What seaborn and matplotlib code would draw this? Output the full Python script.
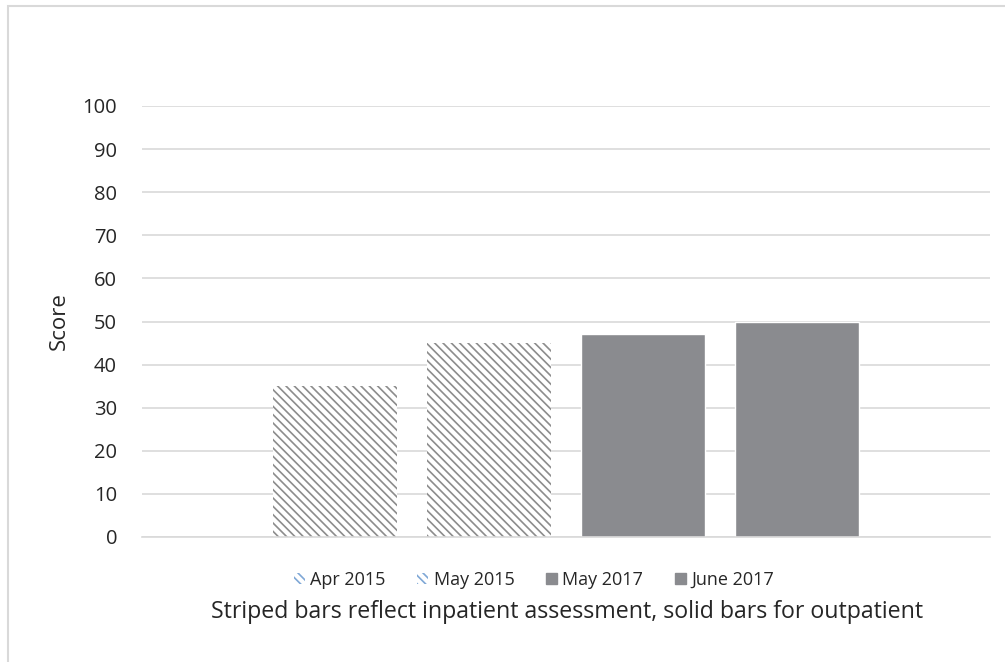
import pandas as pd
import numpy as np
import seaborn as sns
import matplotlib.pyplot as plt
from matplotlib.patches import Patch, Rectangle
plt.switch_backend('agg')

series = ['Apr 2015', 'May 2015', 'May 2017', 'June 2017']
scores = [35, 45, 47, 50]
striped = [True, True, False, False]
caption = 'Striped bars reflect inpatient assessment, solid bars for outpatient'

SOLID = '#8a8b8f'
HATCH = '#8c8c8c'
GRID = '#d9d9d9'
TXT = '#262626'

sns.set_theme(style='white')
plt.rcParams['font.family'] = ['Open Sans', 'DejaVu Sans']
plt.rcParams['hatch.linewidth'] = 1.2
plt.rcParams['hatch.color'] = HATCH

df = pd.DataFrame({'cat': ['all'] * 4, 'series': series, 'score': scores})

fig = plt.figure(figsize=(10.05, 6.62), dpi=100)
ax = fig.add_axes([142 / 1005, 1 - 537 / 662, 848 / 1005, 431 / 662])

sns.barplot(data=df, x='cat', y='score', hue='series', hue_order=series,
            palette=[SOLID] * 4, width=0.8, gap=0.2, legend=False, ax=ax,
            saturation=1)

# inpatient bars get the diagonal stripes
for bar, s in zip(ax.patches, striped):
    if s:
        bar.set_facecolor('white')
        bar.set_edgecolor(HATCH)
        bar.set_hatch('\\\\\\\\')
        bar.set_linewidth(0)

ax.set_xlim(-0.5506, 0.5506)
ax.set_ylim(0, 100)
ax.set_yticks(np.arange(0, 101, 10))
ax.yaxis.grid(True, color=GRID, linewidth=1.2)
ax.set_axisbelow(True)
for sp in ['top', 'right', 'left']:
    ax.spines[sp].set_visible(False)
ax.spines['bottom'].set_color(GRID)
ax.spines['bottom'].set_linewidth(1.2)
ax.tick_params(axis='y', length=0, pad=18, labelsize=14.5, labelcolor=TXT)
ax.set_xticks([])
ax.set_xlabel('')
ax.set_ylabel('Score', fontsize=16, color=TXT, labelpad=9)

handles = []
for s, st in zip(series, striped):
    if st:
        handles.append(Patch(facecolor='white', edgecolor='#7fa7d6', hatch='\\\\\\\\',
                             linewidth=0, label=s))
    else:
        handles.append(Patch(facecolor=SOLID, edgecolor=SOLID, label=s))
fig.legend(handles=handles, loc='center', bbox_to_anchor=(534 / 1005, 1 - 580 / 662),
           ncol=4, frameon=False, fontsize=13, handlelength=0.6, handleheight=0.6,
           handletextpad=0.3, columnspacing=1.75, labelcolor=TXT)

fig.text(567 / 1005, 1 - 612 / 662, caption, ha='center', va='center',
         fontsize=16.7, color=TXT)

fig.patches.append(Rectangle((8 / 1005, -0.1), 1.2, 1 - 6 / 662 + 0.1,
                             transform=fig.transFigure, fill=False,
                             edgecolor='#d9d9d9', linewidth=1.5, figure=fig))

fig.savefig('out.png', dpi=100, facecolor='white')
